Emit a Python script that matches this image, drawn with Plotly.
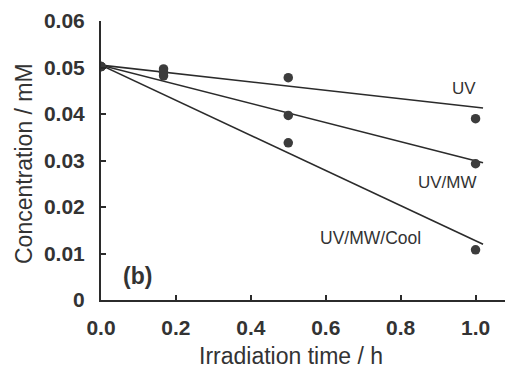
import plotly.graph_objects as go

# data
time_h = [0.0, 0.167, 0.5, 1.0]
uv = [0.0502, 0.0497, 0.0478, 0.0390]
uv_mw = [0.0502, 0.0490, 0.0397, 0.0293]
uv_mw_cool = [0.0502, 0.0482, 0.0338, 0.0108]

# fitted lines (endpoints)
fit_x = [0.0, 1.02]
fit_uv = [0.0505, 0.0413]
fit_uv_mw = [0.0505, 0.0295]
fit_uv_mw_cool = [0.0505, 0.0120]

series_labels = ["UV", "UV/MW", "UV/MW/Cool"]
x_tickvals = [0.0, 0.2, 0.4, 0.6, 0.8, 1.0]
x_ticktext = ["0.0", "0.2", "0.4", "0.6", "0.8", "1.0"]
y_tickvals = [0, 0.01, 0.02, 0.03, 0.04, 0.05, 0.06]
y_ticktext = ["0", "0.01", "0.02", "0.03", "0.04", "0.05", "0.06"]

INK = "#2b2b2b"
TXT = "#333333"
FONT = "Liberation Sans, Arial, sans-serif"

# page body has an 8px default margin; size the figure so it ends at the window edge
OFF = 8
W, H = 513 - OFF, 368 - OFF
L, R, T, B = 101 - OFF, 0, 21 - OFF, 68
pw, ph = W - L - R, H - T - B

fig = go.Figure()
for fy in [fit_uv, fit_uv_mw, fit_uv_mw_cool]:
    fig.add_trace(go.Scatter(x=fit_x, y=fy, mode="lines",
                             line=dict(color=INK, width=1.6), showlegend=False,
                             hoverinfo="skip"))
for ys in [uv, uv_mw, uv_mw_cool]:
    fig.add_trace(go.Scatter(x=time_h, y=ys, mode="markers",
                             marker=dict(color="#3c3c3c", size=9.5, line=dict(width=0)),
                             showlegend=False))

fig.update_layout(
    width=W, height=H,
    margin=dict(l=L, r=R, t=T, b=B, autoexpand=False),
    paper_bgcolor="white", plot_bgcolor="white",
    font=dict(family=FONT, color=TXT),
    xaxis=dict(range=[0, 1.1], tickvals=x_tickvals, ticktext=x_ticktext,
               showgrid=False, zeroline=False, showline=True, linecolor=INK, linewidth=2,
               ticks="inside", ticklen=5, tickwidth=1.5, tickcolor=INK,
               tickfont=dict(family=FONT, size=21, color=TXT, weight="bold"),
               ticklabelstandoff=8, automargin=False),
    yaxis=dict(range=[0, 0.06], tickvals=y_tickvals, ticktext=y_ticktext,
               showgrid=False, zeroline=False, showline=True, linecolor=INK, linewidth=2,
               ticks="inside", ticklen=5, tickwidth=1.5, tickcolor=INK,
               tickfont=dict(family=FONT, size=21, color=TXT, weight="bold"),
               ticklabelstandoff=10, automargin=False),
)


def px_anno(px, py, text, size, bold=False, angle=0):
    fig.add_annotation(x=(px - OFF - L) / pw, y=(H - B - (py - OFF)) / ph,
                       xref="paper", yref="paper",
                       text=text, showarrow=False, textangle=angle,
                       font=dict(family=FONT, size=size, color=TXT,
                                 weight="bold" if bold else "normal"),
                       xanchor="center", yanchor="middle")


px_anno(291, 356, "Irradiation time / h", 23)
px_anno(24, 164, "Concentration / mM", 23, angle=-90)
px_anno(137, 276, "(b)", 23, bold=True)
label_pos = [(464, 89), (447, 183), (370, 238)]
label_sizes = [17, 17, 17.5]
for (lx, ly), lab, sz in zip(label_pos, series_labels, label_sizes):
    px_anno(lx, ly, lab, sz)

fig.write_html("out.html")
